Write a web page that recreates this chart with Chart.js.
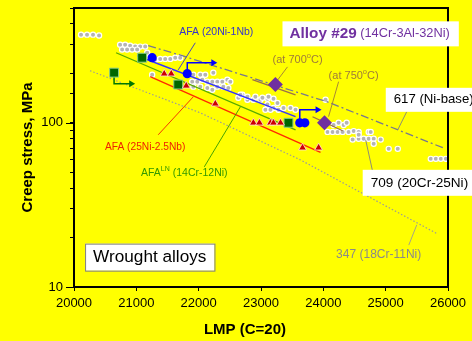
<!DOCTYPE html>
<html>
<head>
<meta charset="utf-8">
<script src="https://cdn.jsdelivr.net/npm/chart.js@4.4.0/dist/chart.umd.min.js"></script>
<style>
  html, body { margin: 0; padding: 0; background: #ffff00; }
  #wrap { width: 472px; height: 341px; }
</style>
</head>
<body>
<div id="wrap"><canvas id="chart"></canvas></div>
<script>
const FONT = 'Arial, "Liberation Sans", sans-serif';

// x axis ticks (LMP, C=20) and y axis labelled decades
const xTicks = [20000, 21000, 22000, 23000, 24000, 25000, 26000];
const yLabelled = [10, 100];

// 709 (20Cr-25Ni) wrought data, grey dots
const lmp709 = [20113, 20209, 20305, 20402, 20740, 20820, 20900, 20981, 21061, 21142,
  20772, 20852, 20933, 21013, 21174, 21222, 21302, 21383, 21463, 21544, 21624, 21704,
  21254, 21833, 21914, 22026, 22106, 22235, 21897, 21978, 22058, 22139, 22219, 22299,
  22380, 22460, 22508, 21914, 22026, 22139, 22219, 22299, 22396, 22476, 22637, 22702,
  22669, 22782, 22878, 22991, 23103, 23200, 22782, 22910, 23023, 23120, 23071, 23200,
  23152, 23280, 23361, 23473, 23554, 23264, 23103, 24036, 24068, 24149, 24229, 24309,
  24165, 24245, 24326, 24374, 24406, 24487, 24567, 24728, 24760, 24470, 24567, 24647,
  24728, 24808, 24920, 24567, 24808, 25049, 25194, 25724, 25805, 25885, 25966];
const stress709 = [344, 344, 344, 340, 299, 299, 295, 291, 291, 291,
  279, 279, 279, 279, 267, 253, 242, 245, 245, 245, 249, 249,
  196, 196, 196, 196, 196, 202, 178, 178, 183, 178, 178, 178,
  178, 183, 178, 166, 166, 163, 159, 166, 166, 163, 142, 148,
  148, 138, 138, 138, 140, 140, 144, 144, 142, 144, 120, 123,
  120, 120, 123, 123, 120, 132, 129, 138, 88, 88, 88, 88,
  97, 100, 97, 100, 88, 89, 88, 88, 88, 79, 80, 80,
  80, 80, 79, 84.5, 74.5, 69.4, 69.4, 60.3, 60.3, 60.3, 60.3];

// AFA (20Ni-1Nb), blue circles
const lmpNb = [21254, 21817, 23622, 23703];
const stressNb = [249, 199, 100, 100];
// AFA-LN (14Cr-12Ni), green squares
const lmpLN = [20643, 21093, 21672, 23441];
const stressLN = [202, 249, 171, 100];
// AFA (25Ni-2.5Nb), red triangles
const lmp25 = [21447, 21560, 21801, 22267, 22878, 22975, 23152, 23200, 23313, 23666, 23924];
const stress25 = [199, 199, 168, 130.6, 100, 100, 100, 100, 100, 70.5, 70.5];
// Alloy #29 at 700 and 750 C
const lmp29 = [23231, 24019];
const stress29 = [171, 100];

// trend curves
const lmp617 = [21190, 21737, 24068, 25917];
const stress617 = [295, 256, 134, 70.5];
const lmp347 = [20257, 22026, 23634, 25837];
const stress347 = [207.5, 115, 59.4, 21.0];
const lmpNbFit = [21013, 23554];
const stressNbFit = [256, 109];
const lmpLNFit = [20675, 23554];
const stressLNFit = [267, 90.6];
const lmp25Fit = [21222, 23955];
const stress25Fit = [191, 66];
const lmp29a = [22862, 23554];
const stress29a = [183, 148];
const lmp29b = [23827, 24309];
const stress29b = [108.8, 89.4];

// arrows (still running tests)
const lmpArrowNb1 = [21817, 21817, 22235];
const stressArrowNb1 = [199, 232, 232];
const lmpArrowNb2 = [23622, 23622, 23907];
const stressArrowNb2 = [100, 120, 120];
const lmpArrowLN = [20643, 20643, 20917];
const stressArrowLN = [202, 173, 173];

// label leader lines
const leaderLmp = [[21946, 21672], [25339, 25194], [24679, 24792], [25499, 25371],
  [21914, 21351], [22669, 22090], [23425, 23232], [24245, 24084]];
const leaderStress = [[307, 210], [117, 90.6], [78.8, 50.3], [23.9, 18.0],
  [144, 84.5], [125, 53.9], [219, 175], [178, 109]];
const leaderColors = ['#3333cc', '#808080', '#808080', '#999999',
  '#ee2200', '#339900', '#9e7b3a', '#9e7b3a'];

function pts(xs, ys) {
  return xs.map((x, i) => ({x: x, y: ys[i]}));
}

function line(xs, ys, color, width, dash, order) {
  return {data: pts(xs, ys), showLine: true, borderColor: color, borderWidth: width,
    borderDash: dash || [], pointRadius: 0, order: order};
}

function arrow(xs, ys, color) {
  return {data: pts(xs, ys), showLine: true, borderColor: color, borderWidth: 1.5,
    pointRadius: [0, 0, 4], pointStyle: 'triangle', pointRotation: 90,
    backgroundColor: color, pointBorderWidth: 0, order: 1};
}

const datasets = [
  {data: pts(lmp709, stress709), pointStyle: 'circle', pointRadius: 2.6,
    backgroundColor: '#b4b4b4', borderColor: '#ffffff', borderWidth: 1.2, order: 8},
  line(lmp617, stress617, '#77778f', 1.3, [8, 3, 2, 3], 6),
  line(lmp347, stress347, '#9a9a9a', 1.2, [1.5, 2], 6),
  line(lmpNbFit, stressNbFit, '#3333ff', 1.4, null, 5),
  line(lmpLNFit, stressLNFit, '#55aa00', 1.3, null, 5),
  line(lmp25Fit, stress25Fit, '#ff2a00', 1.3, null, 5),
  line(lmp29a, stress29a, '#9a7048', 1.3, null, 5),
  line(lmp29b, stress29b, '#9a7048', 1.3, null, 5),
  arrow(lmpArrowNb1, stressArrowNb1, '#0000ff'),
  arrow(lmpArrowNb2, stressArrowNb2, '#0000ff'),
  arrow(lmpArrowLN, stressArrowLN, '#007700'),
  {data: pts(lmp25, stress25), pointStyle: 'triangle', pointRadius: 4.5,
    backgroundColor: '#cc0000', borderColor: '#ffdddd', borderWidth: 0.8, order: 0},
  {data: pts(lmpLN, stressLN), pointStyle: 'rect', pointRadius: 6.3,
    backgroundColor: '#006600', borderColor: '#88cc88', borderWidth: 1, order: 0},
  {data: pts(lmpNb, stressNb), pointStyle: 'circle', pointRadius: 4.6,
    backgroundColor: '#0000ff', borderColor: '#0000ff', borderWidth: 0, order: 0},
  {data: pts(lmp29, stress29), pointStyle: 'rectRot', pointRadius: 7.5,
    backgroundColor: '#7030a0', borderColor: '#7030a0', borderWidth: 0, order: 0}
];
leaderLmp.forEach((xs, i) => {
  datasets.push(line(xs, leaderStress[i], leaderColors[i], 0.9, null, 2));
});

// text notes: anchor in data units, runs = [text, size, weight, color, raise]
const notes = [
  {x: 22283, y: 359, align: 'center', runs: [['AFA (20Ni-1Nb)', 10.5, '', '#3333cc']]},
  {x: 23586, y: 242, align: 'center', runs: [['(at 700', 11, '', '#9e7b3a'], ['o', 7.5, '', '#9e7b3a', 4], ['C)', 11, '', '#9e7b3a']]},
  {x: 24486, y: 193, align: 'center', runs: [['(at 750', 11, '', '#9e7b3a'], ['o', 7.5, '', '#9e7b3a', 4], ['C)', 11, '', '#9e7b3a']]},
  {x: 24888, y: 15.7, align: 'center', runs: [['347 (18Cr-11Ni)', 12, '', '#8a8a8a']]},
  {x: 21142, y: 71.4, align: 'center', runs: [['AFA (25Ni-2.5Nb)', 10.2, '', '#ee2200']]},
  {x: 21769, y: 49.6, align: 'center', runs: [['AFA', 10.5, '', '#339900'], ['LN', 7, '', '#339900', 4], [' (14Cr-12Ni)', 10.5, '', '#339900']]},
  {x: 23457, y: 348, align: 'left', box: {padL: 7, padR: 9, h: 25}, runs: [['Alloy #29', 15.3, 'bold', '#7030a0'], [' (14Cr-3Al-32Ni)', 12.8, '', '#7030a0']]},
  {x: 25130, y: 138, align: 'left', box: {padL: 8, padR: 8, h: 24}, runs: [['617 (Ni-base)', 13.2, '', '#000000']]},
  {x: 24760, y: 43.1, align: 'left', box: {padL: 8, padR: 8, h: 26}, runs: [['709 (20Cr-25Ni)', 13.6, '', '#000000']]},
  {x: 20306, y: 15.2, align: 'left', box: {padL: 8, padR: 8, h: 27, border: '#7f7f7f'}, runs: [['Wrought alloys', 17.2, '', '#000000']]}
];

function runFont(r) {
  return (r[2] ? r[2] + ' ' : '') + r[1] + 'px ' + FONT;
}

function runsWidth(ctx, runs) {
  let w = 0;
  runs.forEach(r => { ctx.font = runFont(r); w += ctx.measureText(r[0]).width; });
  return w;
}

const decor = {
  id: 'decor',
  afterDraw(chart) {
    const {ctx, chartArea: a, scales: {x, y}} = chart;
    ctx.save();
    // plot frame
    ctx.strokeStyle = '#000';
    ctx.lineWidth = 2;
    ctx.strokeRect(a.left, a.top, a.right - a.left, a.bottom - a.top);
    // longer tick marks at decades
    ctx.lineWidth = 1;
    yLabelled.forEach(v => {
      const py = Math.round(y.getPixelForValue(v)) + 0.5;
      ctx.beginPath();
      ctx.moveTo(a.left - 8, py);
      ctx.lineTo(a.left, py);
      ctx.stroke();
    });
    // notes
    ctx.textBaseline = 'middle';
    notes.forEach(n => {
      const w = runsWidth(ctx, n.runs);
      let px = x.getPixelForValue(n.x);
      const py = y.getPixelForValue(n.y);
      if (n.align === 'center') px -= w / 2;
      if (n.box) {
        const b = n.box;
        ctx.fillStyle = '#ffffff';
        ctx.fillRect(px - b.padL, py - b.h / 2, w + b.padL + b.padR, b.h);
        if (b.border) {
          ctx.strokeStyle = b.border;
          ctx.lineWidth = 1;
          ctx.strokeRect(px - b.padL + 0.5, py - b.h / 2 + 0.5, w + b.padL + b.padR, b.h);
        }
      }
      ctx.textAlign = 'left';
      n.runs.forEach(r => {
        ctx.font = runFont(r);
        ctx.fillStyle = r[3];
        ctx.fillText(r[0], px, py - (r[4] || 0));
        px += ctx.measureText(r[0]).width;
      });
    });
    // axis titles
    ctx.fillStyle = '#000';
    ctx.font = 'bold 15px ' + FONT;
    ctx.textAlign = 'center';
    ctx.fillText('LMP (C=20)', 245, 330);
    ctx.translate(28, (a.top + a.bottom) / 2);
    ctx.rotate(-Math.PI / 2);
    ctx.fillText('Creep stress, MPa', 0, 0);
    ctx.restore();
  }
};

new Chart(document.getElementById('chart'), {
  type: 'scatter',
  data: {datasets: datasets},
  options: {
    responsive: true,
    maintainAspectRatio: false,
    animation: false,
    layout: {padding: {left: 0, top: 8, right: 24, bottom: 0}},
    plugins: {legend: {display: false}, tooltip: {enabled: false}},
    scales: {
      x: {
        type: 'linear', min: 20000, max: 26000,
        afterFit: s => { s.height = 54; s.paddingLeft = 0; s.paddingRight = 0; },
        afterBuildTicks: s => { s.ticks = xTicks.map(v => ({value: v})); },
        border: {display: false},
        grid: {drawOnChartArea: false, tickLength: 4, color: '#000'},
        ticks: {color: '#000', font: {family: FONT, size: 13}, padding: 5,
          maxRotation: 0, callback: v => String(v)}
      },
      y: {
        type: 'logarithmic', min: 10, max: 500,
        afterFit: s => { s.width = 74; s.paddingTop = 0; s.paddingBottom = 0; },
        border: {display: false},
        grid: {drawOnChartArea: false, tickLength: 4, color: '#000'},
        ticks: {color: '#000', font: {family: FONT, size: 13}, padding: 7,
          autoSkip: false, callback: v => yLabelled.includes(v) ? String(v) : ''}
      }
    }
  },
  plugins: [decor]
});
</script>
</body>
</html>
